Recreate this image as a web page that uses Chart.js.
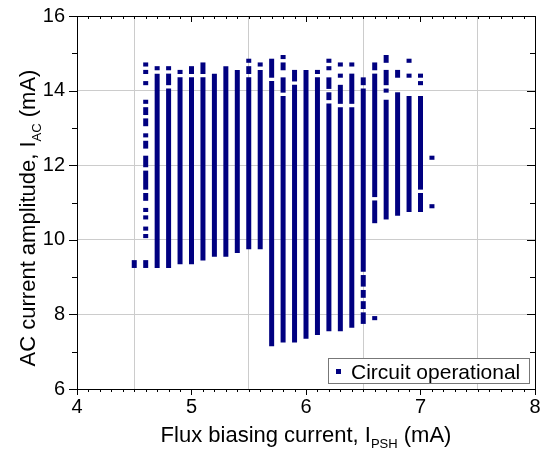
<!DOCTYPE html>
<html>
<head>
<meta charset="utf-8">
<script src="https://cdn.jsdelivr.net/npm/chart.js@4.4.0/dist/chart.umd.min.js"></script>
<style>
  html, body { margin: 0; padding: 0; background: #fff; }
</style>
</head>
<body>
<canvas id="chart" width="540" height="453"></canvas>
<script>
// Flux biasing current of each measured column (mA)
const fluxCurrents = [4.5, 4.6, 4.7, 4.8, 4.9, 5.0, 5.1, 5.2, 5.3, 5.4, 5.5, 5.6, 5.7, 5.8,
  5.9, 6.0, 6.1, 6.2, 6.3, 6.4, 6.5, 6.6, 6.7, 6.8, 6.9, 7.0, 7.1];

// AC amplitudes where the circuit works, [first, last] point of each run (mA)
const operatingRanges = [
  [[9.3, 9.4]],
  [[9.3, 9.4], [10.1, 10.1], [10.3, 10.3], [10.6, 10.6], [10.8, 10.8], [11.1, 11.2], [11.4, 11.8],
   [12.0, 12.2], [12.5, 12.6], [12.8, 12.8], [13.1, 13.2], [13.4, 13.5], [13.7, 13.7], [14.2, 14.2],
   [14.5, 14.5], [14.7, 14.7]],
  [[9.3, 14.4], [14.6, 14.6]],
  [[9.3, 14.0], [14.2, 14.4], [14.6, 14.6]],
  [[9.4, 14.3], [14.5, 14.5]],
  [[9.4, 14.3], [14.5, 14.6]],
  [[9.5, 14.3], [14.5, 14.7]],
  [[9.6, 14.4]],
  [[9.6, 14.6]],
  [[9.7, 14.5]],
  [[9.8, 14.3], [14.5, 14.6], [14.8, 14.8]],
  [[9.8, 14.5], [14.7, 14.7]],
  [[7.2, 14.2], [14.4, 14.8]],
  [[7.3, 13.8], [14.0, 14.3], [14.6, 14.7], [14.9, 14.9]],
  [[7.3, 14.1], [14.3, 14.5]],
  [[7.4, 14.5]],
  [[7.5, 14.3], [14.5, 14.5]],
  [[7.6, 13.6], [13.8, 13.9], [14.1, 14.3], [14.6, 14.6], [14.8, 14.8]],
  [[7.6, 13.5], [13.7, 14.1], [14.4, 14.4], [14.7, 14.7]],
  [[7.7, 13.5], [13.7, 14.4], [14.7, 14.7]],
  [[7.8, 8.0], [8.2, 8.3], [8.5, 8.6], [8.8, 9.0], [9.2, 14.0], [14.2, 14.3]],
  [[7.9, 7.9], [10.5, 11.0], [11.2, 14.4], [14.6, 14.7]],
  [[10.6, 13.7], [14.0, 14.0], [14.2, 14.5], [14.8, 14.9]],
  [[10.7, 13.9], [14.4, 14.5]],
  [[10.8, 13.8], [14.4, 14.4], [14.8, 14.8]],
  [[10.8, 11.2], [11.4, 13.8], [14.2, 14.2], [14.4, 14.4]],
  [[10.9, 10.9], [12.2, 12.2]]
];

const xTickValues = [4, 5, 6, 7, 8];
const yTickValues = [6, 8, 10, 12, 14, 16];
const seriesLabel = "Circuit operational";

const navy = "#000080";
const fontFamily = "'Liberation Sans', Arial, sans-serif";
const markerHalf = 0.055; // half of a square marker, in mA

// one floating bar per run of points
const barPoints = [];
fluxCurrents.forEach((x, i) => {
  operatingRanges[i].forEach(([lo, hi]) => {
    barPoints.push({ x: x, y: [lo - markerHalf, hi + markerHalf] });
  });
});

// text with a subscript part
function drawParts(ctx, parts, size, x, y) {
  const subSize = Math.round(size * 0.6);
  let total = 0;
  parts.forEach(p => {
    ctx.font = (p.sub ? subSize : size) + "px " + fontFamily;
    p.w = ctx.measureText(p.t).width;
    total += p.w;
  });
  let cx = x - total / 2;
  parts.forEach(p => {
    ctx.font = (p.sub ? subSize : size) + "px " + fontFamily;
    ctx.fillText(p.t, cx, y + (p.sub ? 6 : 0));
    cx += p.w;
  });
}

const framePlugin = {
  id: "frame",
  afterDraw(chart) {
    const ctx = chart.ctx;
    const a = chart.chartArea;
    const xs = chart.scales.x, ys = chart.scales.y;
    ctx.save();
    ctx.strokeStyle = "#000";
    ctx.lineWidth = 1;
    ctx.beginPath();
    ctx.rect(Math.round(a.left) + 0.5, Math.round(a.top) + 0.5,
      Math.round(a.right - a.left), Math.round(a.bottom - a.top));
    ctx.stroke();

    // ticks on all four sides
    ctx.beginPath();
    for (let v = 4; v <= 8.001; v += 0.1) {
      const px = Math.round(xs.getPixelForValue(v)) + 0.5;
      const major = Math.abs(v - Math.round(v)) < 0.01;
      const len = major ? 6 : 3;
      ctx.moveTo(px, a.bottom); ctx.lineTo(px, a.bottom + len);
      ctx.moveTo(px, a.top); ctx.lineTo(px, a.top + len);
    }
    for (let v = 6; v <= 16.001; v += 1) {
      const py = Math.round(ys.getPixelForValue(v)) + 0.5;
      const major = Math.round(v) % 2 === 0;
      const len = major ? 8 : 5;
      ctx.moveTo(a.left - len, py); ctx.lineTo(a.left, py);
      ctx.moveTo(a.right, py); ctx.lineTo(a.right - len, py);
    }
    ctx.stroke();

    // axis titles
    ctx.fillStyle = "#000";
    ctx.textBaseline = "alphabetic";
    ctx.textAlign = "left";
    drawParts(ctx, [
      { t: "Flux biasing current, I" }, { t: "PSH", sub: true }, { t: " (mA)" }
    ], 22, (a.left + a.right) / 2, 442);
    ctx.save();
    ctx.translate(35, 218);
    ctx.rotate(-Math.PI / 2);
    drawParts(ctx, [
      { t: "AC current amplitude, I" }, { t: "AC", sub: true }, { t: " (mA)" }
    ], 22, 0, 0);
    ctx.restore();

    // legend box
    ctx.fillStyle = "#fff";
    ctx.fillRect(328, 358, 202, 26);
    ctx.strokeStyle = "#777";
    ctx.strokeRect(328.5, 358.5, 201, 25);
    ctx.fillStyle = navy;
    ctx.fillRect(336, 369, 5, 5);
    ctx.fillStyle = "#000";
    ctx.font = "21px " + fontFamily;
    ctx.fillText(seriesLabel, 351, 379);
    ctx.restore();
  }
};

new Chart(document.getElementById("chart"), {
  type: "bar",
  data: {
    datasets: [{
      label: seriesLabel,
      data: barPoints,
      backgroundColor: navy,
      borderWidth: 0,
      inflateAmount: 0,
      barThickness: 5
    }]
  },
  options: {
    responsive: false,
    animation: false,
    devicePixelRatio: 1,
    layout: { padding: { top: 16, right: 5, left: 0, bottom: 0 } },
    plugins: { legend: { display: false }, tooltip: { enabled: false } },
    scales: {
      x: {
        type: "linear",
        min: 4, max: 8,
        offset: false,
        afterBuildTicks: s => { s.ticks = xTickValues.map(v => ({ value: v })); },
        afterFit: s => { s.height = 64; s.paddingLeft = 0; s.paddingRight = 0; },
        grid: { color: "#cccccc", drawTicks: false },
        border: { display: false },
        ticks: { color: "#000", padding: 6, maxRotation: 0, font: { family: fontFamily, size: 20 } }
      },
      y: {
        type: "linear",
        min: 6, max: 16,
        afterBuildTicks: s => { s.ticks = yTickValues.map(v => ({ value: v })); },
        afterFit: s => { s.width = 77; s.paddingTop = 0; s.paddingBottom = 0; },
        grid: { color: "#cccccc", drawTicks: false },
        border: { display: false },
        ticks: { color: "#000", padding: 12, font: { family: fontFamily, size: 20 } }
      }
    }
  },
  plugins: [framePlugin]
});
</script>
</body>
</html>
